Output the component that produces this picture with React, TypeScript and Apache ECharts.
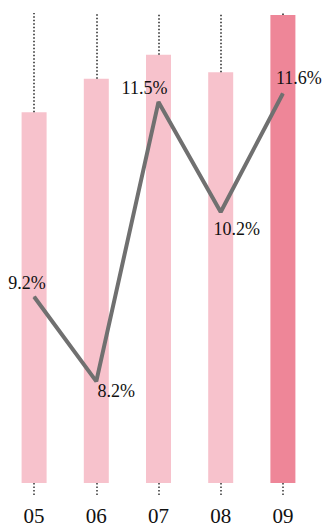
import React, { useEffect, useRef } from "react";
import * as echarts from "echarts";

const categories = ["05", "06", "07", "08", "09"];
const barValues = [78.9, 86.0, 91.1, 87.4, 99.6];
const rateValues = [9.2, 8.2, 11.5, 10.2, 11.6];
const barMax = 100;
const highlightIndex = 4;
// label offsets (styling)
const labelOffsets: [number, number][] = [
  [-7, -14],
  [20, 10],
  [-14, -14],
  [16, 17],
  [16, -15],
];

const FONT = "Times New Roman, Times, serif";

export default function App() {
  const ref = useRef<HTMLDivElement>(null);
  useEffect(() => {
    if (!ref.current) return;
    const chart = echarts.init(ref.current, undefined, { renderer: "svg" });
    chart.setOption({
      animation: false,
      textStyle: { fontFamily: FONT },
      grid: { left: 3, right: 12, top: 13, bottom: 45, containLabel: false },
      xAxis: {
        type: "category",
        data: categories,
        axisLine: { show: false },
        axisTick: {
          show: true,
          alignWithLabel: true,
          length: 14,
          lineStyle: { color: "#333", width: 1.5, type: [1.5, 2] },
        },
        axisLabel: {
          color: "#111",
          fontSize: 21,
          fontFamily: FONT,
          margin: 22,
        },
        splitLine: { show: false },
      },
      yAxis: [
        { type: "value", min: 0, max: barMax, show: false },
        { type: "value", min: 7, max: 12.55, show: false },
      ],
      series: [
        {
          type: "bar",
          yAxisIndex: 0,
          barWidth: 25,
          data: barValues.map((v, i) => ({
            value: v,
            itemStyle: { color: i === highlightIndex ? "#ee8698" : "#f7c2cc" },
          })),
          markLine: {
            silent: true,
            symbol: "none",
            label: { show: false },
            lineStyle: { color: "#222", width: 1.5, type: [1.5, 2] },
            data: categories.map((c, i) => [
              { coord: [i, barValues[i]] },
              { coord: [i, barMax] },
            ]),
          },
        },
        {
          type: "line",
          yAxisIndex: 1,
          data: rateValues.map((v, i) => ({
            value: v,
            label: {
              show: true,
              position: "inside",
              offset: labelOffsets[i],
              formatter: "{c}%",
              color: "#111",
              fontSize: 18,
              fontFamily: FONT,
            },
          })),
          symbol: "circle",
          symbolSize: 1,
          itemStyle: { color: "#707070" },
          lineStyle: { color: "#707070", width: 4 },
          z: 5,
        },
      ],
    });
    return () => chart.dispose();
  }, []);
  return (
    <div
      ref={ref}
      style={{ position: "absolute", left: 0, top: 0, width: 326, height: 528 }}
    />
  );
}
